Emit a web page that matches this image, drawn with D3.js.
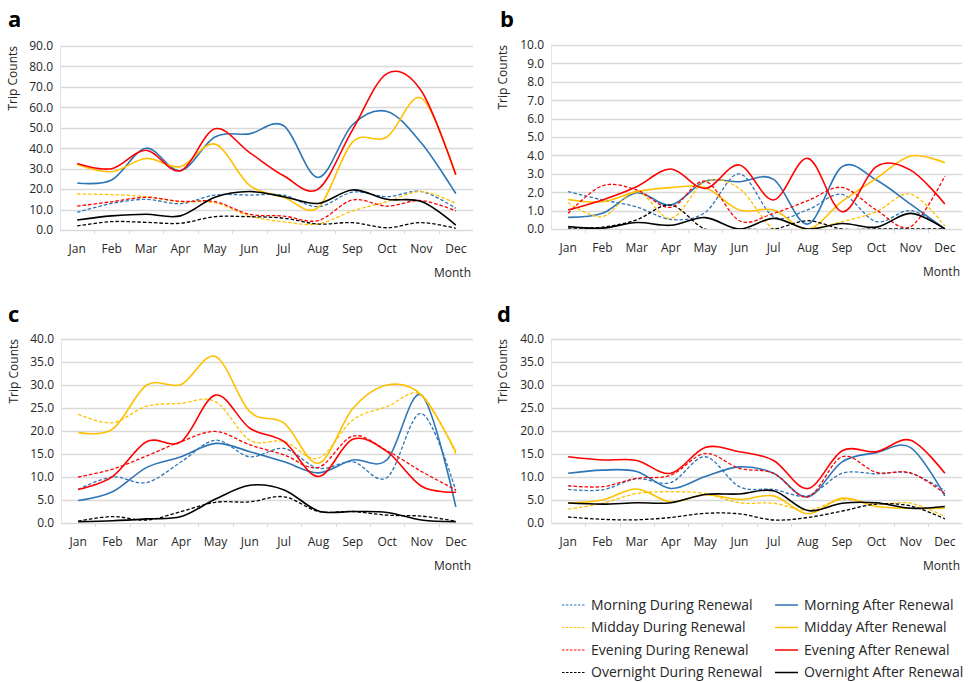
<!DOCTYPE html>
<html>
<meta charset="utf-8">
<head>
	<title>Trip Counts by Month</title>
	<style>
	body { margin: 0; background: #fff; }
	svg { display: block; }
	.tick text, .month, .ytitle { font-family: "Open Sans", "Noto Sans", sans-serif; fill: #262626; }
	.legend text { font-family: "Open Sans", "Noto Sans", sans-serif; fill: #262626; }
	.plabel { font-family: "Open Sans", "DejaVu Sans", sans-serif; font-weight: bold; fill: #000; }
	</style>
</head>
<body>
<script src="https://cdn.jsdelivr.net/npm/d3@7"></script>
<script>

var months = ["Jan", "Feb", "Mar", "Apr", "May", "Jun", "Jul", "Aug", "Sep", "Oct", "Nov", "Dec"];

// legend / drawing order
var seriesNames = ["Morning During Renewal", "Morning After Renewal",
                   "Midday During Renewal", "Midday After Renewal",
                   "Evening During Renewal", "Evening After Renewal",
                   "Overnight During Renewal", "Overnight After Renewal"];

// rows follow seriesNames
var panelA = [
  [8.6, 13, 15, 12.9, 17.1, 17.1, 17, 11.4, 18.5, 16.3, 18.8, 10.6],
  [23, 24.5, 40, 29, 45.5, 47, 51, 25.7, 51.5, 58, 42.5, 17.8],
  [17.6, 17.3, 16.3, 13.8, 13.4, 6.9, 4.0, 3.0, 9.3, 13.9, 18.8, 13],
  [32, 28.5, 35, 31, 42, 22, 16, 11, 43, 45.5, 64.5, 27],
  [11.7, 13.8, 16, 14, 13.9, 7.7, 6.8, 4.6, 14.7, 11.7, 14.4, 9.3],
  [32.5, 30, 39, 29, 49.5, 38, 26.5, 20, 49, 76.5, 68, 27],
  [2.0, 4.1, 3.75, 3.3, 6.5, 6.5, 5.8, 2.9, 3.6, 1.1, 3.6, 0.8],
  [4.9, 6.9, 7.7, 6.9, 16, 18.8, 16.3, 13, 19.6, 15, 13.9, 2.4]
];

var panelB = [
  [2.03, 1.58, 1.2, 0.52, 0.9, 3.0, 0.67, 1.05, 1.88, 0.4, 1.0, 0],
  [0.63, 0.85, 1.97, 1.3, 2.6, 2.57, 2.7, 0.27, 3.39, 2.66, 1.35, 0],
  [1.43, 0.67, 2.05, 0.58, 2.57, 2.2, 0, 0, 0.4, 0.94, 1.9, 0.16],
  [1.6, 1.48, 2.03, 2.25, 2.25, 1.03, 1.03, 0, 1.5, 2.75, 3.97, 3.6],
  [0.85, 2.35, 2.12, 1.18, 2.6, 0.45, 0.85, 1.54, 2.26, 1.03, 0.13, 2.88],
  [1.03, 1.58, 2.3, 3.26, 2.2, 3.48, 1.58, 3.84, 0.94, 3.39, 3.2, 1.36],
  [0.05, 0.1, 0.5, 1.3, 0, 0, 0, 0.45, 0, 0, 0, 0],
  [0.13, 0.05, 0.35, 0.2, 0.62, 0, 0.58, 0, 0.3, 0.1, 0.85, 0]
];

var panelC = [
  [7.3, 10.0, 8.8, 13.3, 18.0, 14.4, 16.2, 11.9, 13.3, 9.9, 23.8, 7.0],
  [4.9, 6.8, 12.1, 14.4, 17.3, 15.5, 13.3, 10.9, 13.7, 13.8, 27.8, 3.5],
  [23.6, 21.8, 25.4, 26.0, 26.4, 18.0, 17.7, 14.1, 22.4, 25.3, 27.8, 15.0],
  [19.7, 20.4, 30.0, 30.1, 36.2, 24.2, 21.7, 13.0, 24.9, 30.0, 27.8, 15.5],
  [10.0, 11.7, 14.6, 17.7, 19.9, 17.0, 14.8, 12.1, 18.9, 15.7, 11.2, 7.2],
  [7.3, 10.1, 17.7, 17.7, 27.8, 20.6, 17.7, 10.1, 18.2, 15.5, 8.0, 6.7],
  [0.4, 1.4, 0.65, 2.5, 4.5, 4.6, 5.7, 2.5, 2.5, 1.7, 1.5, 0.4],
  [0.3, 0.5, 0.9, 1.4, 5.2, 8.2, 7.2, 2.6, 2.5, 2.3, 0.65, 0.3]
];

var panelD = [
  [7.3, 7.2, 9.6, 8.8, 14.4, 7.9, 7.3, 5.9, 10.8, 10.7, 10.8, 7.0],
  [10.8, 11.5, 11.2, 7.5, 10.1, 12.2, 10.8, 5.7, 13.3, 15.3, 16.4, 5.9],
  [3.0, 4.3, 6.4, 6.8, 6.4, 4.4, 4.3, 2.8, 5.1, 4.1, 4.3, 1.4],
  [4.35, 5.0, 7.4, 4.6, 6.2, 5.1, 5.9, 2.0, 5.4, 3.6, 3.2, 3.2],
  [8.1, 7.9, 9.7, 10.4, 15.1, 11.9, 10.8, 5.7, 14.4, 11.0, 10.9, 6.4],
  [14.4, 13.7, 13.6, 10.8, 16.4, 15.5, 13.6, 7.5, 15.7, 15.5, 18.0, 10.8],
  [1.3, 0.8, 0.7, 1.2, 2.1, 2.0, 0.65, 1.2, 2.6, 4.1, 3.7, 0.9],
  [4.35, 4.1, 4.4, 4.4, 6.2, 6.3, 7.0, 2.7, 4.3, 4.4, 3.2, 3.6]
];

var yMaxA = 90, yStepA = 10;
var yMaxB = 10, yStepB = 1;
var yMaxCD = 40, yStepCD = 5;

var seriesColors = ["#2e75b6", "#2e75b6", "#ffc000", "#ffc000", "#ff0000", "#ff0000", "#000000", "#000000"];
var dashed = [true, false, true, false, true, false, true, false];

var svg = d3.select("body").append("svg")
    .attr("width", 968)
    .attr("height", 682);

var panels = [
  {id: "a", data: panelA, yMax: yMaxA, step: yStepA, left: 60, right: 473, top: 46, bottom: 230, lx: 8, ly: 27},
  {id: "b", data: panelB, yMax: yMaxB, step: yStepB, left: 551, right: 962, top: 45, bottom: 229, lx: 500, ly: 27},
  {id: "c", data: panelC, yMax: yMaxCD, step: yStepCD, left: 61, right: 473, top: 339, bottom: 523, lx: 8, ly: 322},
  {id: "d", data: panelD, yMax: yMaxCD, step: yStepCD, left: 551, right: 962, top: 339, bottom: 523, lx: 497, ly: 322}
];

panels.forEach(drawPanel);

function drawPanel(p) {
  var w = p.right - p.left, h = p.bottom - p.top;
  var x = d3.scaleBand().domain(months).range([0, w]);
  var y = d3.scaleLinear().domain([0, p.yMax]).range([h, 0]);
  var ticks = d3.range(0, p.yMax + p.step / 2, p.step);

  svg.append("text")
    .attr("class", "plabel")
    .attr("x", p.lx)
    .attr("y", p.ly)
    .style("font-size", "22px")
    .text(p.id);

  var g = svg.append("g")
    .attr("transform", "translate(" + p.left + "," + p.top + ")");

  // gridlines
  g.append("g")
    .selectAll("line")
    .data(ticks)
    .enter().append("line")
    .attr("x1", 0).attr("x2", w)
    .attr("y1", function(d) { return Math.round(y(d)) + 0.5; })
    .attr("y2", function(d) { return Math.round(y(d)) + 0.5; })
    .style("stroke", "#d9d9d9")
    .style("stroke-width", 1.3);

  g.append("line")
    .attr("x1", 0.5).attr("x2", 0.5)
    .attr("y1", 0).attr("y2", h)
    .style("stroke", "#e3e3e3");

  // y axis labels
  var yAxis = d3.axisLeft(y)
    .tickValues(ticks)
    .tickFormat(d3.format(".1f"))
    .tickSize(0)
    .tickPadding(7);
  var ya = g.append("g").call(yAxis);
  ya.select(".domain").remove();
  ya.selectAll("text").style("font-size", "12px");

  // x axis
  var xAxis = d3.axisBottom(x).tickSize(0).tickPadding(14);
  var xa = g.append("g")
    .attr("transform", "translate(0," + h + ")")
    .call(xAxis);
  xa.select(".domain").remove();
  xa.selectAll("text").style("font-size", "12px");

  g.append("g")
    .selectAll("line")
    .data(months.slice(1))
    .enter().append("line")
    .attr("x1", function(d) { return Math.round(x(d)) + 0.5; })
    .attr("x2", function(d) { return Math.round(x(d)) + 0.5; })
    .attr("y1", h).attr("y2", h + 4)
    .style("stroke", "#d9d9d9");

  g.append("text")
    .attr("class", "month")
    .attr("x", w - 2)
    .attr("y", h + 47)
    .style("text-anchor", "end")
    .style("font-size", "12px")
    .text("Month");

  g.append("text")
    .attr("class", "ytitle")
    .attr("transform", "translate(" + (p.id == "a" || p.id == "c" ? -43 : -44) + ",0) rotate(-90)")
    .style("text-anchor", "end")
    .style("font-size", "12px")
    .text("Trip Counts");

  // clip
  svg.append("clipPath")
    .attr("id", "clip-" + p.id)
    .append("rect")
    .attr("x", 0).attr("y", -2)
    .attr("width", w).attr("height", h + 2);

  var line = d3.line()
    .x(function(d, i) { return x(months[i]) + x.bandwidth() / 2; })
    .y(function(d) { return y(d); })
    .curve(d3.curveCardinal.tension(0));

  g.append("g")
    .attr("clip-path", "url(#clip-" + p.id + ")")
    .selectAll("path")
    .data(p.data)
    .enter().append("path")
    .attr("d", line)
    .style("fill", "none")
    .style("stroke", function(d, i) { return seriesColors[i]; })
    .style("stroke-width", function(d, i) { return dashed[i] ? 1.3 : 1.6; })
    .style("stroke-dasharray", function(d, i) { return dashed[i] ? "3.5,2" : null; });
}

// legend
var legend = svg.append("g").attr("class", "legend");
seriesNames.forEach(function(name, i) {
  var col = i % 2, row = Math.floor(i / 2);
  var lx = col == 0 ? 562 : 775;
  var ly = 605 + row * 22.5;
  legend.append("line")
    .attr("x1", lx).attr("x2", lx + 23)
    .attr("y1", ly).attr("y2", ly)
    .style("stroke", seriesColors[i])
    .style("stroke-width", dashed[i] ? 1.2 : 1.5)
    .style("stroke-dasharray", dashed[i] ? "2.5,1.5" : null);
  legend.append("text")
    .attr("x", lx + 29)
    .attr("y", ly)
    .attr("dy", "0.35em")
    .style("font-size", "14px")
    .text(name);
});

</script>
</body>
</html>
